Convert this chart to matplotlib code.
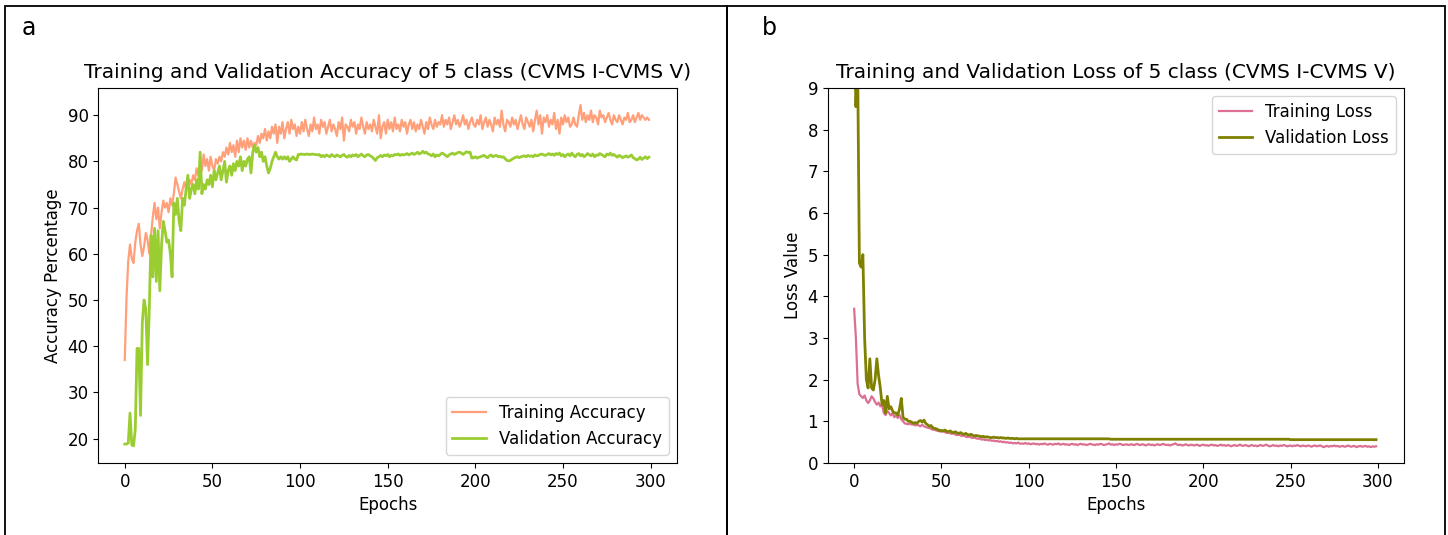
# Training / validation curves, 5 class (CVMS I-CVMS V)
import numpy as np
import matplotlib.pyplot as plt
from matplotlib.patches import Rectangle

# accuracy values (epochs 0-299)
train_acc = [
    37.0, 50.5, 58.5, 62.0, 59.0, 58.0, 62.5, 65.0, 66.5, 62.0, 59.5, 61.5, 64.5, 63.0, 60.0, 64.0, 68.0, 71.0, 67.5, 70.0,
    65.5, 69.0, 71.5, 70.0, 71.0, 69.0, 72.0, 70.5, 73.0, 76.5, 75.0, 73.5, 72.0, 74.0, 75.5, 74.0, 75.0, 76.0, 75.0, 77.0,
    76.0, 78.5, 77.0, 79.0, 78.0, 81.5, 79.0, 80.5, 78.0, 81.0, 79.0, 78.0, 80.5, 79.5, 81.0, 80.0, 82.0, 81.0, 83.0, 81.5,
    84.0, 82.0, 83.5, 81.0, 84.5, 82.0, 85.0, 83.0, 84.5, 82.5, 85.0, 83.0, 84.5, 83.0, 84.0, 83.5, 85.5, 84.0, 86.0, 85.0,
    87.0, 84.5, 86.5, 85.0, 87.5, 86.0, 88.0, 84.0, 87.5, 86.0, 88.5, 85.0, 87.0, 88.5, 86.0, 89.0, 87.0, 88.0, 85.5, 87.5,
    86.0, 88.5, 86.5, 89.0, 87.0, 85.5, 88.0, 86.5, 89.5, 87.0, 88.0, 86.0, 89.0, 87.5, 88.5, 86.0, 87.5, 89.0, 86.5, 88.0,
    87.0, 85.5, 88.5, 87.0, 89.5, 84.5, 88.0, 87.5, 86.5, 89.0, 87.5, 88.5, 86.0, 88.0, 87.0, 89.5, 87.5, 86.0, 88.5, 87.0,
    88.0, 86.5, 89.0, 87.5, 86.0, 90.0, 85.0, 87.5, 88.5, 86.0, 89.0, 87.0, 88.5, 86.5, 89.5, 87.0, 88.0, 86.5, 89.0, 87.5,
    88.5, 86.0, 88.0, 89.0, 87.0, 88.5, 86.5, 88.0, 87.0, 89.0, 87.5, 86.0, 88.5, 87.0, 89.5, 88.0, 87.0, 89.0, 87.5, 88.5,
    88.0, 90.0, 87.5, 89.0, 88.0, 89.5, 87.0, 88.5, 90.0, 88.0, 89.0, 87.5, 88.5, 90.0, 88.0, 89.0, 87.0, 88.5, 89.5, 88.0,
    87.5, 89.0, 88.0, 90.0, 87.0, 88.5, 89.5, 87.5, 89.0, 88.0, 86.5, 89.5, 88.0, 89.0, 87.5, 91.0, 88.0, 86.5, 89.0, 88.5,
    87.5, 89.5, 88.0, 89.0, 87.0, 88.5, 90.0, 88.0, 87.0, 89.5, 88.5, 87.5, 89.0, 86.5, 89.0, 91.0, 88.0, 90.0, 86.0, 89.5,
    88.5, 90.0, 87.5, 89.0, 88.0, 90.5, 87.0, 89.0, 86.0, 89.5, 88.0, 90.0, 88.5, 89.5, 87.5, 88.0, 89.5, 88.0, 87.5, 90.0,
    92.2, 89.0, 90.5, 88.5, 90.0, 89.0, 91.0, 88.5, 90.0, 89.5, 88.0, 91.0, 89.5, 90.0, 88.5, 89.5, 90.5, 89.0, 88.0, 90.0,
    89.0, 88.5, 90.0, 89.0, 88.0, 89.5, 89.0, 90.5, 88.5, 89.0, 90.0, 88.5, 89.5, 90.5, 89.0, 90.0, 89.5, 89.0, 89.5, 89.0,
]

val_acc = [
    18.8, 18.8, 19.0, 25.5, 18.6, 18.4, 22.0, 39.5, 39.5, 25.0, 45.0, 50.0, 48.0, 36.0, 48.0, 64.0, 55.0, 65.5, 54.0, 65.0,
    52.0, 62.0, 67.0, 65.0, 62.5, 63.0, 60.0, 55.0, 71.0, 68.5, 72.0, 67.0, 65.0, 72.0, 70.5, 74.0, 77.0, 72.0, 74.0, 75.0,
    73.0, 76.0, 74.0, 82.0, 73.0, 75.0, 74.0, 76.0, 75.0, 77.0, 74.5, 78.0, 76.0, 77.5, 79.0, 76.0, 78.0, 80.0, 75.5, 78.0,
    79.0, 77.0, 79.5, 78.0, 80.0, 79.0, 81.0, 78.0, 80.0, 79.0, 80.5, 81.0, 77.5, 82.0, 83.5, 82.0, 83.0, 81.0, 82.0, 80.0,
    81.0, 79.0, 77.5, 78.5, 80.0, 81.0, 82.0, 81.0, 80.5, 81.0, 80.5, 81.0, 80.5, 81.0, 80.0, 80.5, 81.0, 80.5, 80.3, 81.5,
    81.5, 81.6, 81.5, 81.5, 81.6, 81.5, 81.5, 81.6, 81.5, 81.5, 81.4, 81.5, 81.0, 81.3, 81.0, 81.4, 81.2, 81.0, 81.5, 81.2,
    81.0, 81.4, 81.2, 81.0, 81.3, 81.5, 81.1, 80.9, 81.3, 81.0, 81.4, 81.2, 81.5, 81.0, 81.3, 81.6, 81.2, 81.0, 81.4, 81.5,
    81.2, 81.0, 80.6, 80.2, 80.8, 81.0, 81.3, 81.0, 81.4, 81.2, 81.5, 81.0, 81.3, 81.2, 81.5, 81.4, 81.6, 81.3, 81.5, 81.4,
    81.5, 81.7, 81.4, 81.6, 81.8, 81.5, 81.7, 82.0, 81.6, 81.8, 82.2, 81.8, 82.0, 81.6, 81.5, 81.2, 81.6, 81.0, 81.4, 81.2,
    81.5, 81.8, 81.6, 81.3, 81.0, 81.4, 81.6, 81.8, 81.5, 81.7, 81.9, 82.0, 81.8, 81.5, 81.8, 82.1, 81.9, 82.0, 80.7, 80.8,
    81.0, 80.7, 80.9, 81.0, 81.2, 81.3, 81.0, 80.8, 81.2, 81.4, 81.0, 81.2, 81.3, 81.0, 81.1, 80.9, 81.0, 80.6, 80.2, 80.1,
    80.2, 80.5, 80.7, 80.9, 81.0, 80.8, 81.0, 81.1, 81.2, 81.0, 81.3, 81.1, 81.2, 81.0, 81.4, 81.2, 81.3, 81.5, 81.6, 81.4,
    81.3, 81.5, 81.7, 81.4, 81.6, 81.3, 81.7, 81.5, 81.8, 81.2, 81.5, 81.0, 81.4, 81.6, 81.2, 81.8, 81.3, 81.0, 81.5, 81.7,
    81.2, 81.5, 81.0, 81.3, 81.7, 81.4, 81.2, 81.6, 81.0, 81.4, 81.3, 81.7, 81.5, 81.2, 81.0, 81.6, 81.4, 81.8, 81.3, 81.5,
    81.2, 80.9, 81.3, 81.1, 80.8, 81.0, 81.2, 80.9, 81.1, 81.4, 80.8, 80.6, 80.3, 80.5, 80.9, 80.4, 80.7, 81.0, 80.6, 80.9,
]

# loss values (epochs 0-299)
train_loss = [
    3.70, 3.00, 1.90, 1.65, 1.60, 1.56, 1.62, 1.50, 1.44, 1.50, 1.60, 1.55, 1.46, 1.40, 1.45, 1.36, 1.40, 1.20, 1.15, 1.25,
    1.20, 1.14, 1.20, 1.10, 1.14, 1.08, 1.15, 1.05, 1.00, 0.95, 0.94, 0.93, 0.95, 0.92, 0.93, 0.90, 0.92, 0.90, 0.88, 0.92,
    0.88, 0.86, 0.85, 0.84, 0.82, 0.80, 0.80, 0.78, 0.77, 0.76, 0.75, 0.76, 0.74, 0.72, 0.73, 0.71, 0.70, 0.71, 0.68, 0.67,
    0.68, 0.66, 0.65, 0.66, 0.63, 0.62, 0.64, 0.61, 0.60, 0.61, 0.59, 0.58, 0.59, 0.56, 0.57, 0.55, 0.56, 0.54, 0.55, 0.53,
    0.54, 0.52, 0.53, 0.51, 0.52, 0.50, 0.51, 0.49, 0.50, 0.48, 0.49, 0.47, 0.48, 0.47, 0.49, 0.46, 0.47, 0.46, 0.48, 0.46,
    0.47, 0.45, 0.46, 0.47, 0.45, 0.46, 0.44, 0.46, 0.45, 0.47, 0.45, 0.44, 0.46, 0.45, 0.44, 0.46, 0.45, 0.47, 0.44, 0.45,
    0.46, 0.44, 0.45, 0.43, 0.45, 0.46, 0.44, 0.45, 0.43, 0.45, 0.46, 0.44, 0.45, 0.43, 0.44, 0.46, 0.45, 0.44, 0.43, 0.45,
    0.44, 0.46, 0.45, 0.43, 0.44, 0.45, 0.47, 0.44, 0.45, 0.43, 0.45, 0.44, 0.46, 0.45, 0.43, 0.44, 0.45, 0.43, 0.44, 0.45,
    0.43, 0.44, 0.46, 0.44, 0.43, 0.45, 0.44, 0.42, 0.44, 0.45, 0.43, 0.44, 0.42, 0.44, 0.45, 0.43, 0.44, 0.46, 0.44, 0.43,
    0.44, 0.42, 0.44, 0.45, 0.47, 0.44, 0.43, 0.44, 0.42, 0.43, 0.45, 0.43, 0.42, 0.44, 0.43, 0.42, 0.44, 0.43, 0.41, 0.43,
    0.44, 0.42, 0.43, 0.41, 0.43, 0.44, 0.42, 0.43, 0.41, 0.42, 0.44, 0.42, 0.43, 0.41, 0.43, 0.42, 0.40, 0.42, 0.43, 0.41,
    0.42, 0.44, 0.42, 0.41, 0.43, 0.42, 0.40, 0.42, 0.43, 0.41, 0.42, 0.40, 0.42, 0.43, 0.41, 0.42, 0.44, 0.42, 0.40, 0.41,
    0.43, 0.41, 0.42, 0.40, 0.42, 0.41, 0.43, 0.42, 0.40, 0.41, 0.42, 0.40, 0.42, 0.41, 0.43, 0.41, 0.40, 0.42, 0.41, 0.40,
    0.42, 0.41, 0.39, 0.41, 0.42, 0.40, 0.41, 0.42, 0.40, 0.38, 0.40, 0.41, 0.39, 0.41, 0.40, 0.42, 0.40, 0.41, 0.39, 0.40,
    0.41, 0.39, 0.40, 0.42, 0.40, 0.39, 0.41, 0.40, 0.38, 0.40, 0.41, 0.39, 0.40, 0.41, 0.39, 0.40, 0.38, 0.40, 0.39, 0.40,
]

val_loss = [
    10.5, 8.55, 9.60, 4.80, 4.70, 5.00, 3.00, 2.00, 1.80, 2.50, 1.80, 1.75, 2.00, 2.50, 2.10, 1.80, 1.40, 1.50, 1.20, 1.60,
    1.30, 1.35, 1.25, 1.20, 1.20, 1.15, 1.30, 1.55, 1.10, 1.05, 1.05, 1.00, 1.00, 0.98, 0.95, 0.97, 0.95, 1.00, 1.02, 0.98,
    1.03, 0.95, 0.92, 0.88, 0.90, 0.85, 0.83, 0.82, 0.80, 0.78, 0.78, 0.77, 0.79, 0.76, 0.75, 0.77, 0.74, 0.73, 0.75, 0.72,
    0.71, 0.73, 0.70, 0.69, 0.71, 0.68, 0.67, 0.69, 0.66, 0.65, 0.66, 0.65, 0.64, 0.63, 0.64, 0.62, 0.63, 0.62, 0.61, 0.61,
    0.62, 0.61, 0.61, 0.60, 0.61, 0.60, 0.60, 0.59, 0.60, 0.59, 0.59, 0.59, 0.58, 0.59, 0.58, 0.58, 0.58, 0.58, 0.58, 0.58,
    0.58, 0.58, 0.58, 0.58, 0.58, 0.58, 0.58, 0.58, 0.58, 0.58, 0.58, 0.58, 0.58, 0.58, 0.58, 0.58, 0.58, 0.58, 0.58, 0.58,
    0.58, 0.58, 0.58, 0.58, 0.58, 0.58, 0.58, 0.58, 0.58, 0.58, 0.58, 0.58, 0.58, 0.58, 0.58, 0.58, 0.58, 0.58, 0.58, 0.58,
    0.58, 0.58, 0.58, 0.58, 0.58, 0.58, 0.58, 0.57, 0.57, 0.57, 0.57, 0.57, 0.57, 0.57, 0.57, 0.57, 0.57, 0.57, 0.57, 0.57,
    0.57, 0.57, 0.57, 0.57, 0.57, 0.57, 0.57, 0.57, 0.57, 0.57, 0.57, 0.57, 0.57, 0.57, 0.57, 0.57, 0.57, 0.57, 0.57, 0.57,
    0.57, 0.57, 0.57, 0.57, 0.57, 0.57, 0.57, 0.57, 0.57, 0.57, 0.57, 0.57, 0.57, 0.57, 0.57, 0.57, 0.57, 0.57, 0.57, 0.57,
    0.57, 0.57, 0.57, 0.57, 0.57, 0.57, 0.57, 0.57, 0.57, 0.57, 0.57, 0.57, 0.57, 0.57, 0.57, 0.57, 0.57, 0.57, 0.57, 0.57,
    0.57, 0.57, 0.57, 0.57, 0.57, 0.57, 0.57, 0.57, 0.57, 0.57, 0.57, 0.57, 0.57, 0.57, 0.57, 0.57, 0.57, 0.57, 0.57, 0.57,
    0.57, 0.57, 0.57, 0.57, 0.57, 0.57, 0.57, 0.57, 0.57, 0.57, 0.56, 0.56, 0.56, 0.56, 0.56, 0.56, 0.56, 0.56, 0.56, 0.56,
    0.56, 0.56, 0.56, 0.56, 0.56, 0.56, 0.56, 0.56, 0.56, 0.56, 0.56, 0.56, 0.56, 0.56, 0.56, 0.56, 0.56, 0.56, 0.56, 0.56,
    0.56, 0.56, 0.56, 0.56, 0.56, 0.56, 0.56, 0.56, 0.56, 0.56, 0.56, 0.56, 0.56, 0.56, 0.56, 0.56, 0.56, 0.56, 0.56, 0.56,
]

epochs = np.arange(len(train_acc))

fig = plt.figure(figsize=(14.48, 5.35), dpi=100)

# panel frames
fig.patches.append(Rectangle((5 / 1448, -0.01), 722 / 1448, 1 - 6 / 535 + 0.01,
                             transform=fig.transFigure, fill=False, edgecolor='black', lw=1.3))
fig.patches.append(Rectangle((727 / 1448, -0.01), 718 / 1448, 1 - 6 / 535 + 0.01,
                             transform=fig.transFigure, fill=False, edgecolor='black', lw=1.3))
fig.text(22 / 1448, 1 - 28 / 535, 'a', fontsize=17, va='center', ha='left')
fig.text(762 / 1448, 1 - 28 / 535, 'b', fontsize=17, va='center', ha='left')

# a: accuracy
ax1 = fig.add_axes([0.068, 0.1346, 0.3995, 0.701])
ax1.plot(epochs, train_acc, color='lightsalmon', lw=1.6, label='Training Accuracy')
ax1.plot(epochs, val_acc, color='yellowgreen', lw=2.0, label='Validation Accuracy')
ax1.set_xlim(-15, 315)
ax1.set_ylim(14.7, 95.9)
ax1.set_title('Training and Validation Accuracy of 5 class (CVMS I-CVMS V)', fontsize=14.5, pad=7)
ax1.set_xlabel('Epochs', fontsize=12)
ax1.set_ylabel('Accuracy Percentage', fontsize=12)
ax1.tick_params(labelsize=12)
ax1.legend(loc='lower right', fontsize=12)

# b: loss
ax2 = fig.add_axes([0.5718, 0.1346, 0.3978, 0.701])
ax2.plot(epochs, train_loss, color='palevioletred', lw=1.6, label='Training Loss')
ax2.plot(epochs, val_loss, color='olive', lw=2.0, label='Validation Loss')
ax2.set_xlim(-15, 315)
ax2.set_ylim(0, 9)
ax2.set_title('Training and Validation Loss of 5 class (CVMS I-CVMS V)', fontsize=14.5, pad=7)
ax2.set_xlabel('Epochs', fontsize=12)
ax2.set_ylabel('Loss Value', fontsize=12)
ax2.tick_params(labelsize=12)
ax2.legend(loc='upper right', fontsize=12)

fig.savefig('out.png', dpi=100)
